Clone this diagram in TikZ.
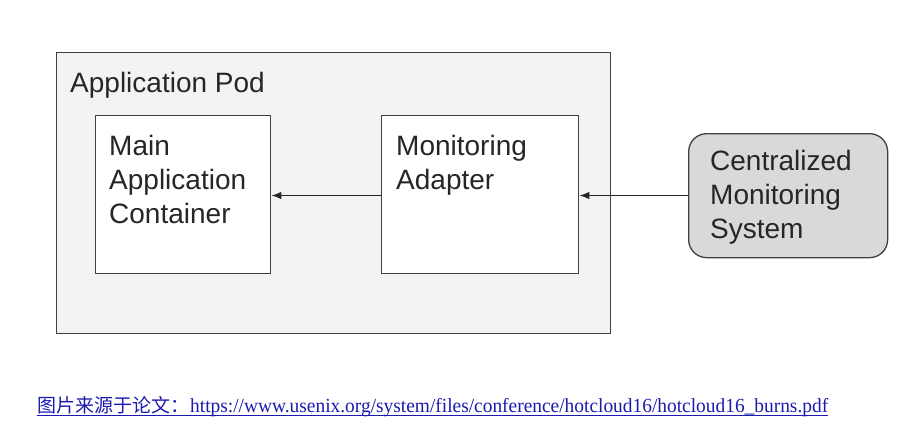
\documentclass[tikz,border=0pt]{standalone}
\usepackage{fontspec}
\setmainfont{Liberation Sans}
\newfontfamily\cjkfont{Noto Sans CJK SC}
\newfontfamily\captionserif{Liberation Serif}
\usetikzlibrary{arrows.meta}
\definecolor{podfill}{HTML}{F3F3F3}
\definecolor{cmsfill}{HTML}{D9D9D9}
\definecolor{linkblue}{HTML}{1A1AB0}
\definecolor{edgegray}{HTML}{404040}
\begin{document}
\begin{tikzpicture}[x=1pt,y=-1pt,
  box/.style={draw=edgegray,line width=1.3pt,anchor=north west,inner sep=0pt},
  label/.style={anchor=north west,align=left,inner sep=0pt,font=\fontsize{28}{34}\selectfont,text=black!85},
  link/.style={-{Latex[length=10pt,width=7.5pt]},line width=1.4pt,draw=black!85}]
  \useasboundingbox (0,0) rectangle (922,432);
  % pod
  \node[box,fill=podfill,minimum width=554pt,minimum height=281pt] (pod) at (56,52) {};
  \node[label] (podlbl) at (70,72) {Application Pod};
  % containers
  \node[box,fill=white,minimum width=175pt,minimum height=158pt] (main) at (95,115) {};
  \node[label] (mainlbl) at (109,135) {Main\\Application\\Container};
  \node[box,fill=white,minimum width=197pt,minimum height=158pt] (adapter) at (381,115) {};
  \node[label] (adaptlbl) at (396,135) {Monitoring\\Adapter};
  % external system
  \node[box,fill=cmsfill,rounded corners=18pt,minimum width=199pt,minimum height=124pt] (cms) at (688,133) {};
  \node[label] (cmslbl) at (710,150) {Centralized\\Monitoring\\System};
  % connectors
  \coordinate (row) at (0,195.5);
  \draw[link] (adapter.west |- row) -- (main.east |- row);
  \draw[link] (cms.west |- row) -- (adapter.east |- row);
  % source note
  \node[anchor=base west,inner sep=0pt,text=linkblue] (src) at (37,412)
    {\fontsize{19}{21}\selectfont\cjkfont 图片来源于论文：\hspace{1pt}\fontsize{20}{22}\selectfont\captionserif\scalebox{0.97}[1]{https://www.usenix.org/system/files/conference/hotcloud16/hotcloud16\_burns.pdf}};
  \draw[linkblue,line width=1pt] ([yshift=-3pt]src.base west) -- ([yshift=-3pt]src.base east);
\end{tikzpicture}
\end{document}
